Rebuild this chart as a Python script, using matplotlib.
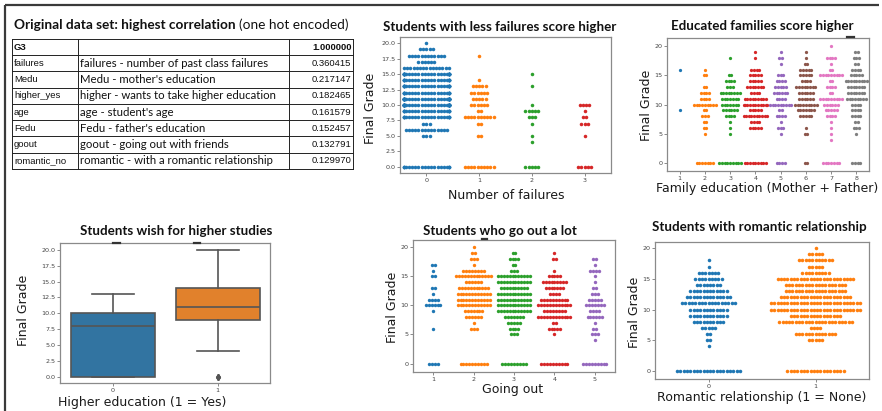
import matplotlib
matplotlib.use("Agg")
import matplotlib.pyplot as plt
import numpy as np

# ---------------- data ----------------
GRADES = [0, 4, 5, 6, 7, 8, 9, 10, 11, 12, 13, 14, 15, 16, 17, 18, 19, 20]

# correlation table
TABLE_FEATURES = ["G3", "failures", "Medu", "higher_yes", "age", "Fedu", "goout", "romantic_no"]
TABLE_DESC = ["", "failures - number of past class failures", "Medu - mother's education",
              "higher - wants to take higher education", "age - student's age",
              "Fedu - father's education", "goout - going out with friends",
              "romantic - with a romantic relationship"]
TABLE_CORR = [1.000000, 0.360415, 0.217147, 0.182465, 0.161579, 0.152457, 0.132791, 0.129970]

# number of students per grade (aligned with GRADES) for each category
FAILURES_CATS = [0, 1, 2, 3]
FAILURES_COUNTS = [
    [20, 0, 3, 14, 3, 22, 22, 40, 38, 24, 26, 24, 30, 15, 6, 12, 5, 1],
    [10, 0, 2, 0, 2, 10, 2, 6, 5, 6, 5, 1, 0, 0, 0, 1, 0, 0],
    [5, 1, 1, 0, 1, 3, 5, 1, 0, 0, 1, 0, 1, 0, 0, 0, 0, 0],
    [5, 0, 1, 0, 3, 2, 1, 4, 0, 0, 0, 0, 0, 0, 0, 0, 0, 0],
]

FAMEDU_CATS = [1, 2, 3, 4, 5, 6, 7, 8]
FAMEDU_COUNTS = [
    [0, 0, 0, 0, 0, 0, 1, 0, 0, 0, 0, 0, 0, 1, 0, 0, 0, 0],
    [7, 0, 1, 2, 2, 3, 2, 9, 4, 4, 2, 0, 2, 1, 0, 0, 0, 0],
    [9, 0, 1, 1, 1, 4, 6, 7, 7, 8, 3, 4, 2, 0, 0, 1, 0, 0],
    [9, 0, 0, 5, 4, 10, 5, 11, 9, 4, 7, 5, 5, 4, 0, 1, 1, 0],
    [4, 0, 1, 3, 1, 4, 2, 9, 4, 6, 5, 4, 3, 0, 1, 2, 1, 0],
    [2, 0, 2, 1, 0, 5, 7, 9, 6, 6, 8, 4, 5, 5, 2, 1, 1, 0],
    [7, 1, 1, 1, 1, 4, 5, 6, 9, 2, 4, 2, 9, 2, 1, 4, 0, 1],
    [4, 0, 1, 3, 2, 4, 4, 4, 8, 7, 7, 9, 5, 4, 2, 3, 2, 0],
]

GOOUT_CATS = [1, 2, 3, 4, 5]
GOOUT_COUNTS = [
    [4, 0, 0, 1, 0, 0, 1, 6, 4, 1, 2, 0, 2, 1, 2, 0, 0, 0],
    [10, 0, 0, 3, 1, 6, 7, 12, 12, 12, 11, 6, 13, 8, 1, 3, 2, 1],
    [9, 0, 3, 4, 5, 7, 12, 12, 12, 12, 10, 12, 12, 3, 2, 4, 2, 0],
    [10, 0, 1, 5, 2, 12, 8, 12, 10, 4, 7, 9, 5, 1, 0, 2, 1, 0],
    [9, 1, 3, 2, 1, 6, 4, 7, 5, 3, 2, 1, 1, 4, 1, 2, 0, 0],
]

ROMANTIC_CATS = [0, 1]
ROMANTIC_COUNTS = [
    [20, 1, 2, 2, 5, 10, 12, 12, 17, 14, 12, 8, 9, 7, 1, 1, 0, 0],
    [18, 0, 5, 13, 4, 23, 16, 28, 28, 22, 19, 19, 24, 9, 5, 11, 5, 1],
]

# box plot summary of final grade by "higher" (0 = no, 1 = yes)
HIGHER_CATS = [0, 1]
HIGHER_Q1 = [0, 9]
HIGHER_MED = [8, 11]
HIGHER_Q3 = [10, 14]
HIGHER_WHISLO = [0, 4]
HIGHER_WHISHI = [13, 20]
HIGHER_FLIERS = [[], [0, 0, 0]]

PALETTE = ["#1f77b4", "#ff7f0e", "#2ca02c", "#d62728",
           "#9467bd", "#8c564b", "#e377c2", "#7f7f7f"]
BOX_COLORS = ["#3274a1", "#e1812c"]

# ---------------- figure ----------------
W, H = 882, 411
fig = plt.figure(figsize=(W / 100, H / 100), dpi=100)
fig.patch.set_facecolor("white")

bg = fig.add_axes([0, 0, 1, 1], zorder=-5)
bg.set_xlim(0, W)
bg.set_ylim(H, 0)
bg.axis("off")

TITLE_FONT = dict(family="Lato", fontweight="bold", fontsize=9.6, color="#111111")
LABEL_FONT = dict(family="DejaVu Sans", fontsize=9.0, color="#1a1a1a")


def px_axes(box):
    x0, y0, x1, y1 = box
    return fig.add_axes([x0 / W, 1 - y1 / H, (x1 - x0) / W, (y1 - y0) / H])


def style_axes(ax, xlim, ylim, xticks, xticklabels, yticks, yticklabels):
    ax.set_xlim(*xlim)
    ax.set_ylim(*ylim)
    ax.set_xticks(xticks)
    ax.set_xticklabels(xticklabels)
    ax.set_yticks(yticks)
    ax.set_yticklabels(yticklabels)
    for s in ax.spines.values():
        s.set_color("#8a8a8a")
        s.set_linewidth(0.9)
    ax.tick_params(labelsize=4.6, length=2, width=0.6, color="#777777",
                   labelcolor="#444444", pad=1.5)


def place_texts(ax, box, title, title_xy, xlabel, xlabel_xy, ylabel, ylabel_xy):
    x0, y0, x1, y1 = box
    bg.text(title_xy[0], title_xy[1], title, ha="center", va="center", **TITLE_FONT)
    ax.set_xlabel(xlabel, **LABEL_FONT)
    ax.xaxis.label.set_va("center")
    ax.xaxis.set_label_coords((xlabel_xy[0] - x0) / (x1 - x0), (y1 - xlabel_xy[1]) / (y1 - y0))
    ax.set_ylabel(ylabel, **LABEL_FONT)
    ax.yaxis.label.set_va("center")
    ax.yaxis.set_label_coords((ylabel_xy[0] - x0) / (x1 - x0), (y1 - ylabel_xy[1]) / (y1 - y0))


def swarm(ax, box, xlim, cats, table, step_px, half, size=6.5):
    px_per_unit = (box[2] - box[0]) / (xlim[1] - xlim[0])
    d = step_px / px_per_unit
    for i, (cat, counts) in enumerate(zip(cats, table)):
        xs, ys = [], []
        for g, n in zip(GRADES, counts):
            if n == 0:
                continue
            off = np.clip((np.arange(n) - (n - 1) / 2) * d, -half, half)
            xs.extend(i + off)
            ys.extend([g] * n)
        ax.scatter(xs, ys, s=size, color=PALETTE[i % len(PALETTE)], linewidths=0, zorder=3)


# ---------------- slide frame ----------------
bg.plot([5, 5], [411, 5], color="#3a3a3a", lw=1.6, solid_capstyle="butt")
bg.plot([5, 879], [5, 5], color="#3a3a3a", lw=1.6, solid_capstyle="butt")

# ---------------- correlation table ----------------
t1 = bg.text(14, 25, "Original data set: highest correlation", ha="left", va="center",
             family="Lato", fontweight="bold", fontsize=9.8, color="#111111")
fig.canvas.draw()
bb = t1.get_window_extent(renderer=fig.canvas.get_renderer())
bg.text(bb.x1 + 3, 25, "(one hot encoded)", ha="left", va="center",
        family="Lato", fontsize=9.8, color="#111111")

tx = [12, 78, 289, 353]
ty0, ty1 = 39, 169
rh = (ty1 - ty0) / len(TABLE_FEATURES)
for k in range(len(TABLE_FEATURES) + 1):
    bg.plot([tx[0], tx[-1]], [ty0 + k * rh] * 2, color="#222222", lw=0.7)
for x in tx:
    bg.plot([x, x], [ty0, ty1], color="#222222", lw=0.7)
for k, (feat, desc, val) in enumerate(zip(TABLE_FEATURES, TABLE_DESC, TABLE_CORR)):
    yc = ty0 + (k + 0.5) * rh
    w = "bold" if k == 0 else "normal"
    bg.text(tx[0] + 2, yc, feat, ha="left", va="center", family="Liberation Sans",
            fontsize=6.8, fontweight=w, color="#111111")
    bg.text(tx[1] + 2, yc, desc, ha="left", va="center", family="Lato",
            fontsize=8.2, color="#111111")
    bg.text(tx[3] - 1.5, yc, f"{val:.6f}", ha="right", va="center", family="Liberation Sans",
            fontsize=6.8, fontweight=w, color="#111111")

# ---------------- failures swarm ----------------
box = (400, 37, 611, 173)
xlim = (-0.5, 3.5)
ax = px_axes(box)
swarm(ax, box, xlim, FAILURES_CATS, FAILURES_COUNTS, 3.2, 0.42)
yt = np.arange(0, 20.1, 2.5)
style_axes(ax, xlim, (-1, 21), range(len(FAILURES_CATS)), [str(c) for c in FAILURES_CATS],
           yt, [f"{v:.1f}" for v in yt])
place_texts(ax, box, "Students with less failures score higher", (500, 27),
            "Number of failures", (506, 195), "Final Grade", (370, 108))

# ---------------- family education swarm ----------------
box = (667, 38, 869, 171)
xlim = (-0.5, 7.5)
ax = px_axes(box)
swarm(ax, box, xlim, FAMEDU_CATS, FAMEDU_COUNTS, 2.7, 0.45, size=5.5)
style_axes(ax, xlim, (-1.4, 21.4), range(len(FAMEDU_CATS)), [str(c) for c in FAMEDU_CATS],
           [0, 5, 10, 15, 20], ["0", "5", "10", "15", "20"])
place_texts(ax, box, "Educated families score higher", (762, 26),
            "Family education (Mother + Father)", (767, 188), "Final Grade", (647, 105))

# ---------------- higher education box plot ----------------
box = (60, 243, 270, 383)
ax = px_axes(box)
stats = []
for q1, med, q3, lo, hi, fl in zip(HIGHER_Q1, HIGHER_MED, HIGHER_Q3,
                                    HIGHER_WHISLO, HIGHER_WHISHI, HIGHER_FLIERS):
    stats.append(dict(q1=q1, med=med, q3=q3, whislo=lo, whishi=hi, fliers=fl))
line_c = "#555555"
bp = ax.bxp(stats, positions=range(len(HIGHER_CATS)), widths=0.8, patch_artist=True,
            boxprops=dict(edgecolor=line_c, linewidth=1.2),
            medianprops=dict(color=line_c, linewidth=1.2),
            whiskerprops=dict(color=line_c, linewidth=1.2),
            capprops=dict(color=line_c, linewidth=1.2),
            capwidths=0.4,
            flierprops=dict(marker="d", markersize=3, markerfacecolor=line_c,
                            markeredgecolor=line_c))
for patch, c in zip(bp["boxes"], BOX_COLORS):
    patch.set_facecolor(c)
style_axes(ax, (-0.5, 1.5), (-1, 21.1), range(len(HIGHER_CATS)), [str(c) for c in HIGHER_CATS],
           yt, [f"{v:.1f}" for v in yt])
place_texts(ax, box, "Students wish for higher studies", (176, 231),
            "Higher education (1 = Yes)", (142, 402), "Final Grade", (23, 310))

# ---------------- going out swarm ----------------
box = (413, 240, 615, 372)
xlim = (-0.5, 4.5)
ax = px_axes(box)
swarm(ax, box, xlim, GOOUT_CATS, GOOUT_COUNTS, 2.9, 0.43, size=6)
style_axes(ax, xlim, (-1.45, 21.25), range(len(GOOUT_CATS)), [str(c) for c in GOOUT_CATS],
           [0, 5, 10, 15, 20], ["0", "5", "10", "15", "20"])
place_texts(ax, box, "Students who go out a lot", (500, 231),
            "Going out", (513, 389), "Final Grade", (392, 307))

# ---------------- romantic swarm ----------------
box = (655, 242, 869, 379)
xlim = (-0.5, 1.5)
ax = px_axes(box)
swarm(ax, box, xlim, ROMANTIC_CATS, ROMANTIC_COUNTS, 3.3, 0.42)
style_axes(ax, xlim, (-1.3, 21), range(len(ROMANTIC_CATS)), [str(c) for c in ROMANTIC_CATS],
           [0, 5, 10, 15, 20], ["0", "5", "10", "15", "20"])
place_texts(ax, box, "Students with romantic relationship", (759, 227),
            "Romantic relationship (1 = None)", (762, 397), "Final Grade", (635, 312))

# small leftover marks along the top edges of some panels
for xa, xb, yy in [(113, 120, 243), (194, 200, 243), (482, 487, 239), (847, 854, 37)]:
    fig.add_artist(plt.Line2D([xa / W, xb / W], [1 - yy / H] * 2, color="#333333", lw=1.6,
                              transform=fig.transFigure, zorder=10))

fig.savefig("out.png", dpi=100, facecolor="white")
